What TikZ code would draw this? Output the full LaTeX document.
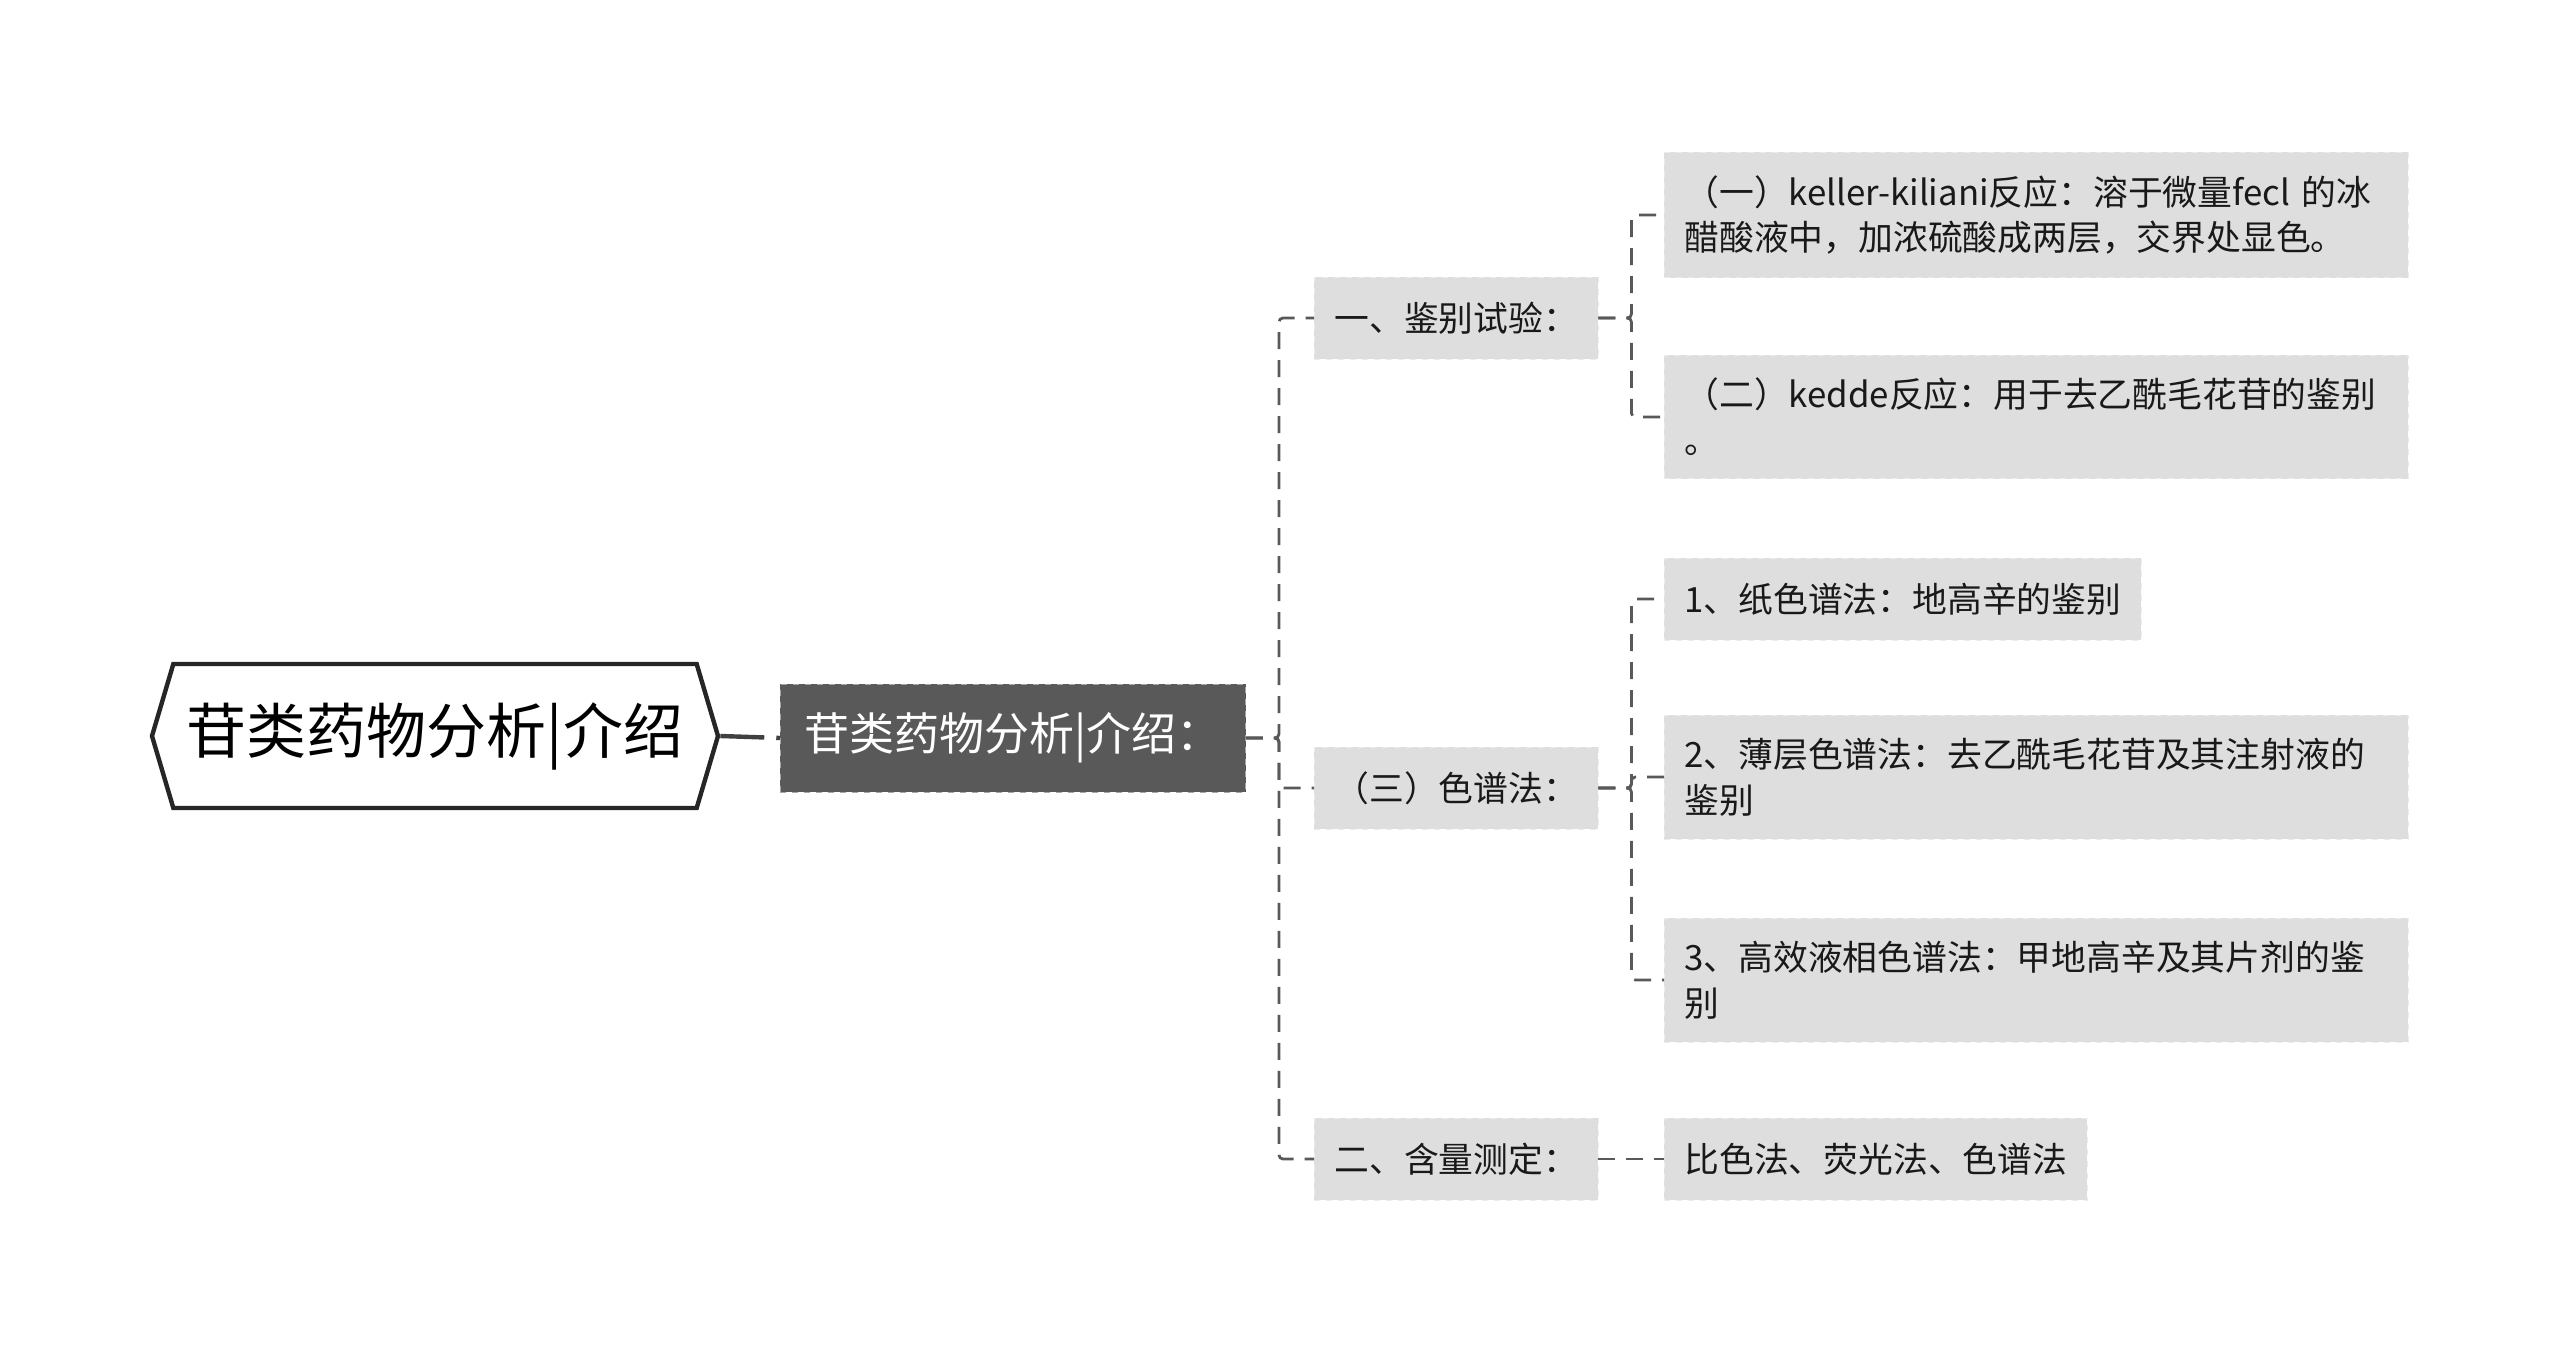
\documentclass[tikz,border=0pt]{standalone}
\usepackage{fontspec}
\setmainfont{Noto Sans CJK SC}
\usepackage{tikz}
\usetikzlibrary{shapes.symbols}
\definecolor{linkgray}{HTML}{595959}
\definecolor{boxgray}{HTML}{DEDEDE}
\definecolor{darkbox}{HTML}{595959}
\tikzset{
  root/.style={signal, signal to=west and east, signal pointer angle=147,
    draw=black!85, line width=2.2pt, fill=white, minimum width=283pt, minimum height=72pt,
    inner xsep=4pt, font=\fontsize{30}{36}\selectfont},
  topic/.style={anchor=west, fill=darkbox, draw=gray!70, dashed, text=white,
    minimum height=54pt, inner xsep=12pt, font=\fontsize{22.5}{27}\selectfont},
  sub/.style={anchor=west, fill=boxgray, draw=white!85!gray, dashed, text=black!90,
    minimum height=41pt, inner xsep=10pt, inner ysep=11.5pt, font=\fontsize{17.4}{22.9}\selectfont},
  leaf/.style={sub, text width=352pt, align=left},
  link/.style={draw=linkgray, line width=1.4pt, dash pattern=on 8.5pt off 5.5pt, rounded corners=2pt}
}
\begin{document}
\begin{tikzpicture}[x=0.5pt,y=-0.5pt]
  \useasboundingbox (0,0) rectangle (2560,1352);
  % centre and main topic
  \node[root] (root) at (435,736) {苷类药物分析|介绍};
  \node[topic] (main) at (780,738) {苷类药物分析|介绍：};
  % second level
  \node[sub] (jianbie) at (1314,318) {一、鉴别试验：};
  \node[sub] (sepu) at (1314,788) {（三）色谱法：};
  \node[sub] (hanliang) at (1314,1159) {二、含量测定：};
  % leaves
  \node[leaf] (keller) at (1664,215) {（一）keller-kiliani反应：溶于微量fecl 的冰\\醋酸液中，加浓硫酸成两层，交界处显色。};
  \node[leaf] (kedde) at (1664,417) {（二）kedde反应：用于去乙酰毛花苷的鉴别\\。};
  \node[sub] (zhi) at (1664,599) {1、纸色谱法：地高辛的鉴别};
  \node[leaf] (bao) at (1664,777) {2、薄层色谱法：去乙酰毛花苷及其注射液的\\鉴别};
  \node[leaf] (gao) at (1664,980) {3、高效液相色谱法：甲地高辛及其片剂的鉴\\别};
  \node[sub] (bise) at (1664,1159) {比色法、荧光法、色谱法};
  % connectors
  \draw[draw=black!75, line width=2.2pt, dash pattern=on 22pt off 6pt] (root.east) -- (main.west);
  \foreach \c in {jianbie,sepu,hanliang}
    \draw[link] (main.east) -- ++(33,0) |- (\c.west);
  \foreach \c in {keller,kedde}
    \draw[link] (jianbie.east) -- ++(33,0) |- (\c.west);
  \foreach \c in {zhi,bao,gao}
    \draw[link] (sepu.east) -- ++(33,0) |- (\c.west);
  \draw[link] (hanliang.east) -- (bise.west);
\end{tikzpicture}
\end{document}
